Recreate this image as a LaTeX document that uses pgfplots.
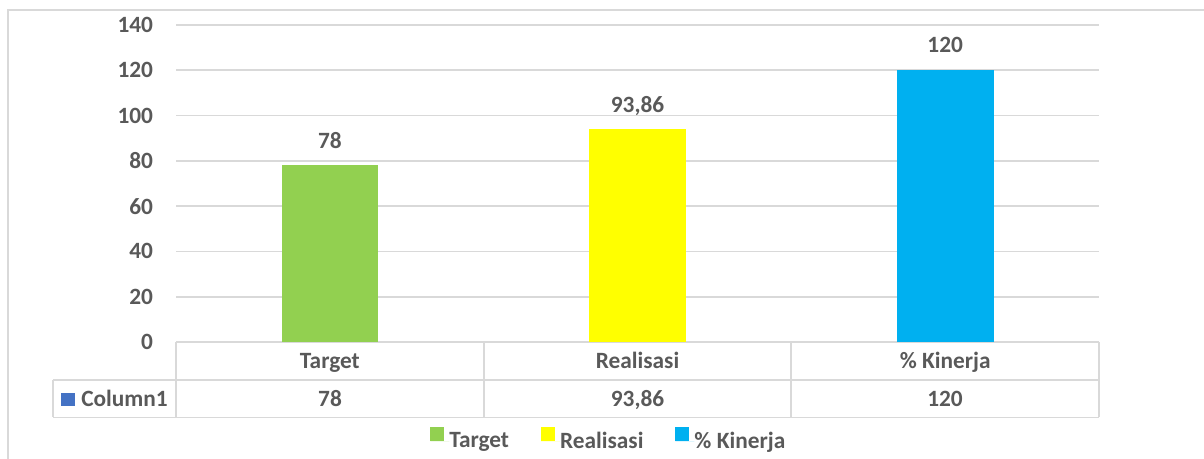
\documentclass[border=0pt]{standalone}
\usepackage{pgfplots}
\pgfplotsset{compat=1.18}
\usepackage{fontspec}
\setmainfont{Carlito}
\definecolor{txt}{HTML}{595959}
\definecolor{gridc}{HTML}{D9D9D9}
\definecolor{cgreen}{HTML}{92D050}
\definecolor{cyellow}{HTML}{FFFF00}
\definecolor{ccyan}{HTML}{00B0F0}
\definecolor{cblue}{HTML}{4472C4}
\newcommand{\lf}{\fontsize{17.5}{20}\selectfont\bfseries}
\begin{document}
\begin{tikzpicture}
\useasboundingbox (0,0) rectangle (903pt,344.25pt);
\begin{scope}
\clip (0,0) rectangle (903pt,344.25pt);
\begin{scope}[x=0.75pt,y=-0.75pt,yshift=344.25pt]
  % outer chart frame
  \draw[gridc, line width=1pt] (8,480) -- (8,10) -- (1230,10);
  % data table grid
  \draw[gridc, line width=1.2pt] (176,342.5) -- (1099,342.5);
  \draw[gridc, line width=1.2pt] (53,380) -- (1099,380);
  \draw[gridc, line width=1.2pt] (53,417.5) -- (1099,417.5);
  \draw[gridc, line width=1.2pt] (53,380) -- (53,417.5);
  \foreach \xx in {176,484,791,1099} {\draw[gridc, line width=1.2pt] (\xx,342.5) -- (\xx,417.5);}
  % row header
  \fill[cblue] (61,393) rectangle (75,406);
  \node[anchor=base west, inner sep=0pt, font=\lf, text=txt] at (81,407) {Column1};
  \node[anchor=base, inner sep=0pt, font=\lf, text=txt] at (330,407) {78};
  \node[anchor=base, inner sep=0pt, font=\lf, text=txt] at (637.5,407) {93,86};
  \node[anchor=base, inner sep=0pt, font=\lf, text=txt] at (945,407) {120};
\end{scope}
\end{scope}
\begin{axis}[
  at={(132pt,87.75pt)}, anchor=south west,
  scale only axis, width=692.25pt, height=237.75pt,
  xmin=-0.5, xmax=2.5, ymin=0, ymax=140,
  enlargelimits=false,
  ybar, bar width=72.5pt, bar shift=0pt,
  axis line style={draw=none},
  major tick length=0pt,
  ytick={0,20,...,140},
  ymajorgrids, grid style={gridc, line width=1.2pt},
  /pgf/number format/assume math mode=true,
  yticklabel style={font=\lf, text=txt, inner sep=0pt, anchor=east, xshift=-17pt},
  xtick={0,1,2},
  xticklabels={Target, Realisasi, \% Kinerja},
  xticklabel style={font=\lf, text=txt, inner sep=0pt, anchor=base, yshift=-20.25pt},
  nodes near coords,
  point meta=explicit symbolic,
  every node near coord/.append style={font=\lf, text=txt, inner sep=0pt, anchor=base, yshift=13pt},
  legend columns=3,
  legend image code/.code={\fill[#1] (0pt,0pt) rectangle (10.5pt,10.5pt); \path (0pt,0pt) -- (14.25pt,0pt);},
  legend style={draw=none, fill=none, font=\lf, text=txt, inner sep=0pt,
    nodes={inner sep=0pt},
    at={(axis description cs:0.2752,-0.306)}, anchor=west,
    /tikz/every even column/.append style={column sep=24pt}},
  clip=false
]
\addplot[fill=cgreen, draw=none] coordinates {(0,78) [78]};
\addplot[fill=cyellow, draw=none] coordinates {(1,93.86) [93,86]};
\addplot[fill=ccyan, draw=none] coordinates {(2,120) [120]};
\legend{Target, Realisasi, \% Kinerja}
\end{axis}
\end{tikzpicture}
\end{document}
